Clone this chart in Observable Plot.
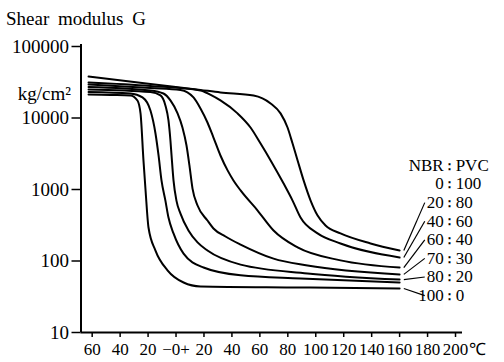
<!DOCTYPE html>
<html><head><meta charset="utf-8">
<script src="https://cdn.jsdelivr.net/npm/d3@7"></script>
<script src="https://cdn.jsdelivr.net/npm/@observablehq/plot@0.6"></script>
<style>
body{margin:0;background:#fff;}
#title{height:30px;box-sizing:border-box;padding:8px 0 0 6px;font:19px "Liberation Serif",serif;line-height:21px;word-spacing:4px;color:#000;}
#chart svg{overflow:visible;font-family:"Liberation Serif",serif;}
#chart svg text{font-family:"Liberation Serif",serif;}
</style></head><body>
<div id="title">Shear modulus G</div>
<div id="chart"></div>
<script>
// NBR : PVC blend ratios
const nbrShare = [0, 20, 40, 60, 70, 80, 100];
const pvcShare = [100, 80, 60, 40, 30, 20, 0];

// [temperature °C, shear modulus G kg/cm²]
const curve_0_100 = [[-62.6,38000],[-18.3,29900],[17.5,24700],[31.8,22800],[55.5,20700],[67.7,16000],[74.8,11600],[79.8,7360],[83.4,4390],[87,2550],[91.3,1340],[96.3,700],[101.3,432],[107,314],[117.7,243],[139.2,176],[160,140]];
const curve_20_80 = [[-62.6,31400],[-18.3,28100],[17.5,24300],[24.8,21000],[31.8,17600],[44,11600],[53.3,7360],[60.5,4390],[67.7,2550],[77,1210],[83.4,700],[89.1,405],[101.3,243],[117.7,176],[160,112]];
const curve_40_60 = [[-62.6,29400],[-18.3,26300],[3.2,24700],[12.5,19400],[17.5,13600],[22.5,8650],[26.8,5330],[31.8,2990],[36.9,1850],[41.1,1340],[46.2,970],[58.4,508],[69.8,267],[87,155],[117.7,102],[160,81]];
const curve_60_40 = [[-62.6,27200],[-18.3,24300],[-9,22000],[-4,17600],[1.1,11600],[4.6,7360],[7.5,4120],[9.6,2170],[11.8,1030],[15.4,597],[22.5,368],[26.8,285],[35.4,220],[46.2,170],[69.8,108],[94.1,86.5],[160,65]];
const curve_70_30 = [[-62.6,25100],[-18.3,23100],[-11.1,20700],[-7.6,15000],[-5.4,9230],[-4,4840],[-3.2,2990],[-1.8,1340],[0.3,700],[3.2,461],[8.9,267],[15.4,182],[22.5,140],[46.2,89],[94.1,67],[160,55]];
const curve_80_20 = [[-62.6,23100],[-32.6,22000],[-24,19400],[-18.3,12700],[-14.7,6070],[-12.5,2990],[-10.4,1340],[-7.6,700],[-5.4,405],[-1.8,243],[5.4,127],[19.7,81],[46.2,63],[89.1,57],[160,50]];
const curve_100_0 = [[-62.6,21300],[-46.9,21000],[-32.6,20700],[-27.6,17600],[-25.4,11600],[-23.3,2550],[-21.8,970],[-19.7,294],[-14.7,140],[-6.1,74],[5.4,50],[17.5,44],[89,42.6],[160,41.2]];

const xTicks = [-60,-40,-20,0,20,40,60,80,100,120,140,160,180,200];
const yTicks = [10,100,1000,10000,100000];
const yUnit = "kg/cm²";
const tempUnit = "℃";
const headerLeft = "NBR", headerRight = "PVC";

const curves = [curve_0_100, curve_20_80, curve_40_60, curve_60_40, curve_70_30, curve_80_20, curve_100_0];
const rows = curves.flatMap((c, i) => c.map(([T, G]) => ({T, G, s: i})));

// label column layout (annotation)
const labelTopG = 2170, labelStep = 0.26;
const rowG = i => labelTopG * Math.pow(10, -labelStep * i);
const labelRows = [{left: headerLeft, right: headerRight, G: rowG(0)}]
  .concat(nbrShare.map((n, i) => ({left: String(n), right: String(pvcShare[i]), G: rowG(i + 1)})));
const leaderFrom = [0, 1, 2, 3, 4, 6];
const leaders = leaderFrom.map((si, k) => ({g1: curves[si][curves[si].length - 1][1], g2: rowG(k + 2)}));

const fmtX = d => d < 0 ? String(-d) : d === 0 ? "\u22120+" : String(d);
const serif = "'Liberation Serif', serif";

const chart = Plot.plot({
  width: 504, height: 332,
  marginLeft: 80.5, marginRight: 42, marginTop: 16, marginBottom: 30,
  x: {domain: [-68, 205]},
  y: {type: "log", domain: [10, 100000]},
  style: {fontFamily: serif, background: "#fff", color: "#000"},
  marks: [
    Plot.axisX({ticks: xTicks, tickFormat: fmtX, tickSize: 5, tickPadding: 5, fontSize: 17, fontFamily: serif, label: null, strokeWidth: 1.5}),
    Plot.axisY({ticks: yTicks, tickFormat: d => String(d), tickSize: 9, tickPadding: 3, fontSize: 19, fontFamily: serif, label: null, strokeWidth: 1.5}),
    Plot.ruleX([-68], {y1: 10, y2: 107000, strokeWidth: 2}),
    Plot.ruleY([10], {x1: -68, x2: 205, strokeWidth: 2}),
    Plot.text([tempUnit], {x: () => 200, y: () => 10, text: d => d, textAnchor: "start", lineAnchor: "top", dx: 13, dy: 10, fontSize: 17, fontFamily: "'DejaVu Serif', 'Noto Sans CJK JP', serif"}),
    Plot.text([yUnit], {frameAnchor: "top-left", text: d => d, textAnchor: "end", dx: -10, dy: 40, fontSize: 19, fontFamily: serif}),
    Plot.line(rows, {x: "T", y: "G", z: "s", curve: "monotone-x", stroke: "#000", strokeWidth: 2}),
    Plot.link(leaders, {x1: () => 163, y1: "g1", x2: () => 178, y2: "g2", stroke: "#000", strokeWidth: 1.2}),
    Plot.text(labelRows, {x: () => 191.5, y: "G", text: "left", textAnchor: "end", fontSize: 17, fontFamily: serif}),
    Plot.text(labelRows, {x: () => 195.4, y: "G", text: () => "\uFF1A", textAnchor: "middle", fontSize: 13, fontFamily: "'Noto Sans CJK JP', sans-serif", fontWeight: "bold"}),
    Plot.text(labelRows, {x: () => 200.1, y: "G", text: "right", textAnchor: "start", fontSize: 17, fontFamily: serif})
  ]
});
document.getElementById("chart").append(chart);
</script>
</body></html>
